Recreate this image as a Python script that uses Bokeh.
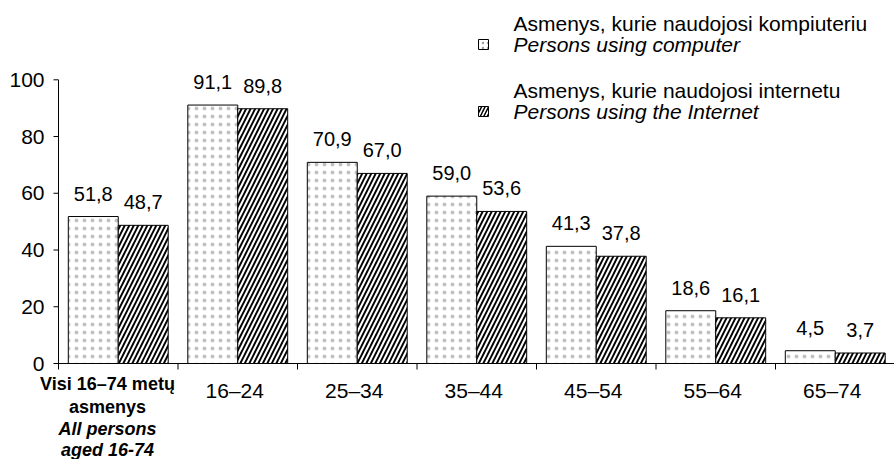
from bokeh.plotting import figure
from bokeh.models import Range1d, Label, LabelSet, ColumnDataSource
from bokeh.core.properties import value
from bokeh.embed import file_html
from bokeh.resources import INLINE

categories = ["Visi 16–74 metų asmenys", "16–24", "25–34", "35–44", "45–54", "55–64", "65–74"]
computer = [51.8, 91.1, 70.9, 59.0, 41.3, 18.6, 4.5]
internet = [48.7, 89.8, 67.0, 53.6, 37.8, 16.1, 3.7]
y_ticks = [0, 20, 40, 60, 80, 100]
first_label_lt = ["Visi 16–74 metų", "asmenys"]
first_label_en = ["All persons", "aged 16-74"]
legend_lt = ["Asmenys, kurie naudojosi kompiuteriu", "Asmenys, kurie naudojosi internetu"]
legend_en = ["Persons using computer", "Persons using the Internet"]

FONT = "Liberation Sans"
W, H = 894, 459
AXIS_X = 58      # pixel column of the y axis
AXIS_Y = 363     # pixel row of the value 0
CAT_PX = 119.5   # pixels per category
Y_PX = 2.837     # pixels per unit


def px_x(cx):
    return (cx - AXIS_X) / CAT_PX


def px_y(cy):
    return (AXIS_Y - cy) / Y_PX


p = figure(width=W, height=H, output_backend="svg", toolbar_location=None,
           x_range=Range1d(px_x(0), px_x(W)), y_range=Range1d(px_y(H), px_y(0)),
           x_axis_location=None, y_axis_location=None,
           min_border_left=0, min_border_right=0, min_border_top=0,
           min_border_bottom=0)
p.outline_line_color = None
p.xgrid.visible = False
p.ygrid.visible = False

dot_style = dict(hatch_pattern="dot", hatch_color="#c2c2c2", hatch_scale=8, hatch_weight=0.5)
diag_style = dict(hatch_pattern="/", hatch_color="black", hatch_scale=9, hatch_weight=1.9)

n = len(categories)
bw = 0.418
fmt = lambda v: f"{v:.1f}".replace(".", ",")
src = ColumnDataSource(dict(
    xc=[i + 0.5 - bw / 2 for i in range(n)],
    xi=[i + 0.5 + bw / 2 for i in range(n)],
    comp=computer, inet=internet,
    comp_lbl=[fmt(v) for v in computer],
    inet_lbl=[fmt(v) for v in internet],
))

p.vbar(x="xc", top="comp", bottom=0, width=bw, source=src, fill_color="white",
       line_color="black", line_width=1, **dot_style)
p.vbar(x="xi", top="inet", bottom=0, width=bw, source=src, fill_color="white",
       line_color="black", line_width=1, **diag_style)

for col, lbl in (("xc", "comp"), ("xi", "inet")):
    p.add_layout(LabelSet(x=col, y=lbl, text=lbl + "_lbl", source=src, y_offset=16,
                          text_align="center", text_baseline="alphabetic",
                          text_font=value(FONT), text_font_size=value("20px"),
                          text_color="black"))

# y axis: line, outward ticks, labels
p.segment(x0=[0], y0=[y_ticks[0]], x1=[0], y1=[y_ticks[-1]], line_color="black", line_width=1)
p.segment(x0=[px_x(AXIS_X - 5)] * len(y_ticks), y0=y_ticks, x1=[0] * len(y_ticks), y1=y_ticks,
          line_color="black", line_width=1)
ytick_src = ColumnDataSource(dict(x=[px_x(AXIS_X - 14)] * len(y_ticks), y=y_ticks,
                                  t=[str(v) for v in y_ticks]))
p.add_layout(LabelSet(x="x", y="y", text="t", source=ytick_src, text_align="right",
                      text_baseline="middle", text_font=value(FONT),
                      text_font_size=value("21px"), text_color="black"))

# x axis: line at value 0 with ticks between categories
p.segment(x0=[0], y0=[0], x1=[n], y1=[0], line_color="black", line_width=1)
p.segment(x0=list(range(n)), y0=[0] * n, x1=list(range(n)), y1=[px_y(AXIS_Y + 6)] * n,
          line_color="black", line_width=1)

# category labels
cat_src = ColumnDataSource(dict(x=[i + 0.5 for i in range(1, n)],
                                y=[px_y(390)] * (n - 1),
                                t=categories[1:]))
p.add_layout(LabelSet(x="x", y="y", text="t", source=cat_src, text_align="center",
                      text_baseline="middle", x_offset=-3, text_font=value(FONT),
                      text_font_size=value("21px"), text_color="black"))
rows = [383, 406, 428, 449]
lines = [(t, "bold") for t in first_label_lt] + [(t, "bold italic") for t in first_label_en]
for (t, style), r in zip(lines, rows):
    p.add_layout(Label(x=px_x(107), y=px_y(r), text=t, text_align="center",
                       text_baseline="middle", text_font=FONT, text_font_size="18px",
                       text_font_style=style, text_color="black"))

# legend
icon_x = px_x(483)
text_x = px_x(513)
leg_rows = [(23, 44), (90, 111)]
icon_styles = [dict(dot_style, hatch_scale=5, hatch_color="#a0a0a0"),
               dict(diag_style, hatch_scale=7, hatch_weight=1.5)]
for (r1, r2), lt, en, pat in zip(leg_rows, legend_lt, legend_en, icon_styles):
    p.rect(x=[icon_x], y=[px_y(r2)], width=10, height=10, width_units="screen",
           height_units="screen", fill_color="white", line_color="black", line_width=1, **pat)
    p.add_layout(Label(x=text_x, y=px_y(r1), text=lt, text_baseline="middle",
                       text_font=FONT, text_font_size="21px", text_color="black"))
    p.add_layout(Label(x=text_x, y=px_y(r2), text=en, text_baseline="middle",
                       text_font=FONT, text_font_size="21px", text_font_style="italic",
                       text_color="black"))

open("out.html", "w").write(file_html(p, INLINE))
